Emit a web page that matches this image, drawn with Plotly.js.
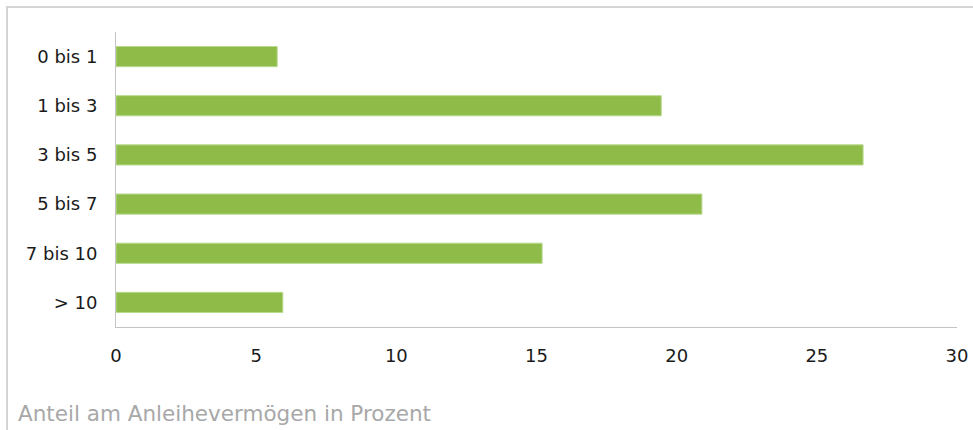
<!DOCTYPE html>
<html>
<head>
<meta charset="utf-8">
<script src="https://cdn.plot.ly/plotly-3.0.1.min.js"></script>
<style>
  html, body { margin: 0; padding: 0; background: #fff; }
  #wrap { position: relative; width: 973px; height: 430px; overflow: hidden; }
  #frame { position: absolute; left: 6px; top: 6px; width: 980px; height: 440px;
           border-top: 2px solid #d4d4d4; border-left: 2px solid #d4d4d4; pointer-events: none; }
  #chart { position: absolute; left: 0; top: 0; width: 973px; height: 430px; }
</style>
</head>
<body>
<div id="wrap">
  <div id="chart"></div>
  <div id="frame"></div>
</div>
<script>
const categories = ["0 bis 1", "1 bis 3", "3 bis 5", "5 bis 7", "7 bis 10", "> 10"];
const values = [5.75, 19.45, 26.65, 20.9, 15.2, 5.95];
const xTickVals = [0, 5, 10, 15, 20, 25, 30];
const titleText = "Anteil am Anleihevermögen in Prozent";

const fontFamily = "'DejaVu Sans', 'Open Sans', sans-serif";

const trace = {
  type: "bar",
  orientation: "h",
  y: categories,
  x: values,
  marker: { color: "#8fbc48", line: { color: "#b8d98e", width: 1 } },
  hoverinfo: "x+y"
};

const layout = {
  width: 973,
  height: 430,
  margin: { l: 116, r: 16, t: 32, b: 103 },
  paper_bgcolor: "rgba(0,0,0,0)",
  plot_bgcolor: "rgba(0,0,0,0)",
  bargap: 0.59,
  showlegend: false,
  font: { family: fontFamily, size: 18, color: "#1a1a1a" },
  title: {
    text: titleText,
    font: { family: fontFamily, size: 21.5, color: "#a8a8a8" },
    x: 18 / 973, xanchor: "left", xref: "container",
    y: (430 - 413) / 430, yanchor: "middle", yref: "container"
  },
  xaxis: {
    range: [0, 30],
    tickvals: xTickVals,
    ticktext: xTickVals.map(String),
    showgrid: false,
    zeroline: false,
    showline: true,
    linecolor: "#c4c4c4",
    linewidth: 1,
    ticks: "outside",
    ticklen: 12,
    tickcolor: "rgba(0,0,0,0)",
    tickfont: { family: fontFamily, size: 18, color: "#1a1a1a" },
    fixedrange: true
  },
  yaxis: {
    categoryorder: "array",
    categoryarray: categories,
    autorange: "reversed",
    showgrid: false,
    zeroline: false,
    showline: true,
    linecolor: "#c4c4c4",
    linewidth: 1,
    ticks: "outside",
    ticklen: 14,
    tickcolor: "rgba(0,0,0,0)",
    tickfont: { family: fontFamily, size: 18, color: "#1a1a1a" },
    fixedrange: true
  }
};

Plotly.newPlot("chart", [trace], layout, { displayModeBar: false, staticPlot: true });
</script>
</body>
</html>
